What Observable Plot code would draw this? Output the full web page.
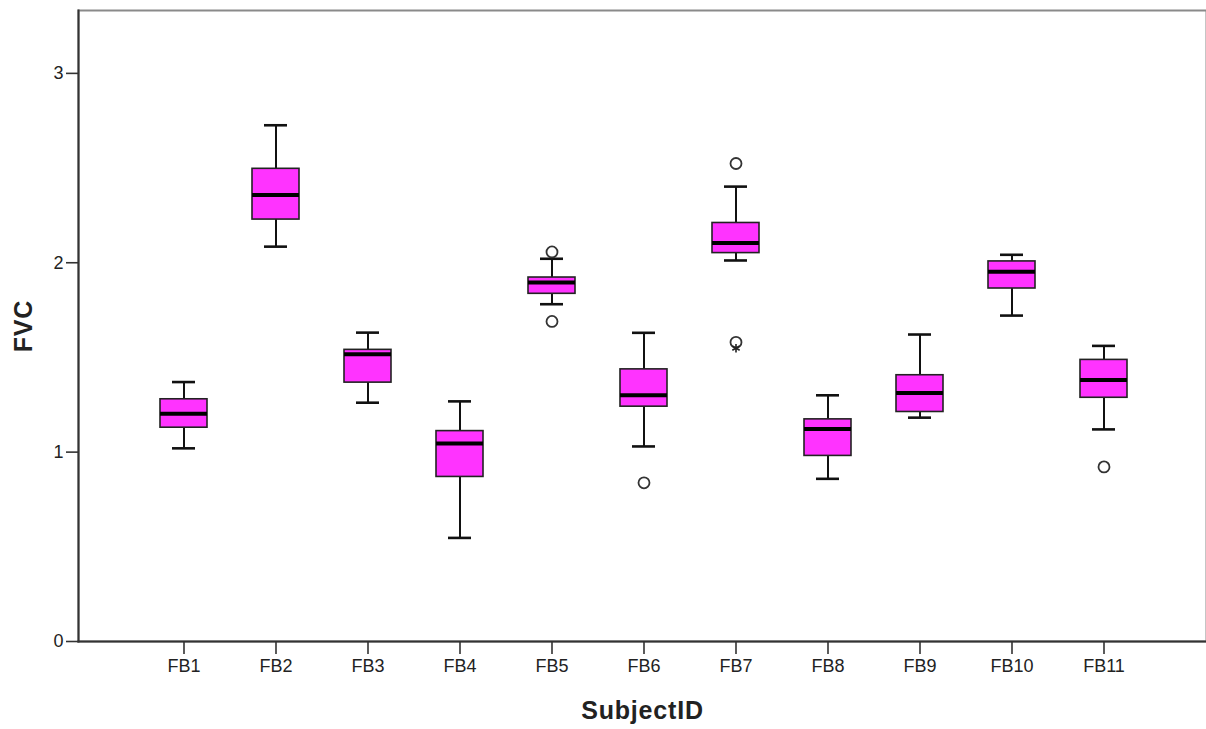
<!DOCTYPE html>
<html>
<head>
<meta charset="utf-8">
<script src="https://cdn.jsdelivr.net/npm/d3@7"></script>
<script src="https://cdn.jsdelivr.net/npm/@observablehq/plot@0.6"></script>
<style>
  html, body { margin: 0; padding: 0; background: #fff; }
  #chart svg { display: block; }
</style>
</head>
<body>
<div id="chart"></div>
<script>
// ---- data (SPSS-style box plot) ----
const subjects    = ["FB1","FB2","FB3","FB4","FB5","FB6","FB7","FB8","FB9","FB10","FB11"];
const whiskerLow  = [1.020, 2.085, 1.261, 0.547, 1.781, 1.030, 2.012, 0.859, 1.182, 1.721, 1.120];
const q1          = [1.129, 2.228, 1.367, 0.869, 1.836, 1.240, 2.051, 0.980, 1.212, 1.864, 1.287];
const medians     = [1.203, 2.358, 1.517, 1.046, 1.896, 1.300, 2.104, 1.122, 1.312, 1.952, 1.381];
const q3          = [1.279, 2.496, 1.540, 1.111, 1.922, 1.437, 2.210, 1.173, 1.406, 2.007, 1.487];
const whiskerHigh = [1.370, 2.726, 1.631, 1.268, 2.021, 1.630, 2.402, 1.300, 1.621, 2.042, 1.561];

const outlierSubject = ["FB5", "FB5", "FB6", "FB7", "FB7", "FB11"];
const outlierValue   = [2.057, 1.690, 0.838, 2.524, 1.580, 0.922];
const extremeSubject = ["FB7"];
const extremeValue   = [1.549];

const yTicks = [0, 1, 2, 3];
const yLabel = "FVC";
const xLabel = "SubjectID";

// ---- tables built from the arrays ----
const boxes = subjects.map((s, i) => ({
  s, lo: whiskerLow[i], q1: q1[i], med: medians[i], q3: q3[i], hi: whiskerHigh[i]
}));
const outliers = outlierSubject.map((s, i) => ({s, v: outlierValue[i]}));
const extremes = extremeSubject.map((s, i) => ({s, v: extremeValue[i]}));

const font = "'Liberation Sans', Arial, sans-serif";
const capInset = 12;

const chart = Plot.plot({
  width: 1206,
  height: 729,
  marginLeft: 78,
  marginRight: 0,
  marginTop: 10,
  marginBottom: 88,
  style: {fontFamily: font, background: "#fff", color: "#222"},
  x: {type: "band", domain: subjects, range: [157.4, 1129.3], paddingInner: 0.49, paddingOuter: 0},
  y: {domain: [0, 3.332]},
  marks: [
    Plot.frame({stroke: "#8a8a8a", strokeWidth: 2}),
    Plot.frame({anchor: "left", stroke: "#333", strokeWidth: 2}),
    Plot.frame({anchor: "bottom", stroke: "#333", strokeWidth: 2}),
    // whiskers
    Plot.ruleX(boxes, {x: "s", y1: "lo", y2: "q1", stroke: "#111", strokeWidth: 2}),
    Plot.ruleX(boxes, {x: "s", y1: "q3", y2: "hi", stroke: "#111", strokeWidth: 2}),
    Plot.tickY(boxes, {x: "s", y: "lo", stroke: "#111", strokeWidth: 2.6, insetLeft: capInset, insetRight: capInset}),
    Plot.tickY(boxes, {x: "s", y: "hi", stroke: "#111", strokeWidth: 2.6, insetLeft: capInset, insetRight: capInset}),
    // boxes
    Plot.barY(boxes, {x: "s", y1: "q1", y2: "q3", fill: "#ff33ff", stroke: "#222", strokeWidth: 1.6}),
    Plot.tickY(boxes, {x: "s", y: "med", stroke: "#000", strokeWidth: 4}),
    // outliers
    Plot.dot(outliers, {x: "s", y: "v", r: 5.5, stroke: "#333", strokeWidth: 1.8, fill: "none"}),
    Plot.dot(extremes, {x: "s", y: "v", r: 4, symbol: "asterisk", stroke: "#222", strokeWidth: 1.6}),
    // axes
    Plot.axisY({ticks: yTicks, tickFormat: d3.format("d"), tickSize: 12, tickPadding: 3, fontSize: 18, label: null, stroke: "#333", strokeWidth: 1.6}),
    Plot.axisX({tickSize: 13, tickPadding: 5, fontSize: 18, label: null, stroke: "#333", strokeWidth: 1.6}),
    Plot.text([yLabel], {frameAnchor: "left", dx: -55, rotate: -90, fontSize: 25, fontWeight: "bold", fill: "#222", textAnchor: "middle"}),
    Plot.text([xLabel], {frameAnchor: "bottom", dy: 69, fontSize: 25, fontWeight: "bold", fill: "#222", textAnchor: "middle", lineAnchor: "middle"})
  ]
});
d3.select(chart).selectAll("text")
  .filter(function() { return this.textContent === xLabel || this.textContent === yLabel; })
  .style("letter-spacing", "0.8px");
document.getElementById("chart").appendChild(chart);
</script>
</body>
</html>
